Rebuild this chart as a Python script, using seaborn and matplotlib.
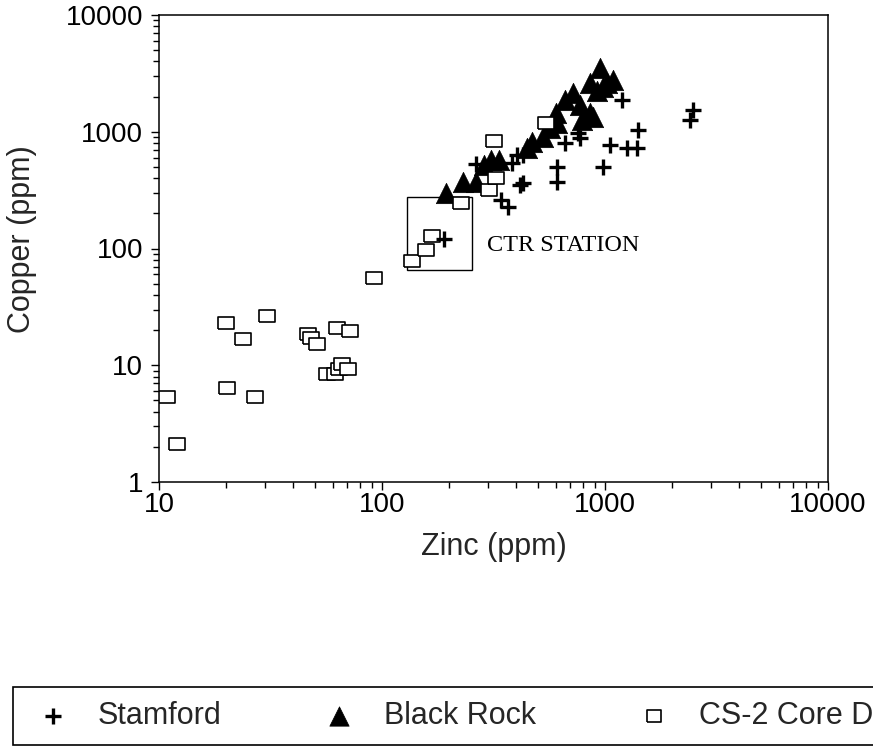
import numpy as np
import pandas as pd
import matplotlib
matplotlib.use("Agg")
import matplotlib.pyplot as plt
from matplotlib.ticker import FixedLocator, FuncFormatter, LogLocator, NullFormatter
from matplotlib.patches import Rectangle
import seaborn as sns

# ---------------- data ----------------
stamford_zn = [190, 265, 401, 427, 381, 427, 414, 343, 366, 612, 612, 659, 753, 769,
               975, 1050, 1251, 1387, 1401, 1189, 2472, 2398]
stamford_cu = [120, 530, 628, 628, 537, 361, 347, 258, 225, 496, 369, 797, 970, 880,
               496, 766, 722, 722, 1030, 1864, 1531, 1256]

blackrock_zn = [194, 230, 265, 288, 309, 336, 445, 473, 525, 564, 612, 606, 659, 715,
                769, 787, 853, 881, 853, 975, 946, 1081, 920, 1016]
blackrock_cu = [300, 369, 369, 516, 569, 569, 722, 813, 898, 1072, 1183, 1442, 1864, 2140,
                1686, 1250, 1442, 1333, 2608, 2410, 3500, 2767, 2250, 2600]

cs2_zn = [10.9, 12.05, 20, 20.2, 23.8, 27, 30.6, 46.7, 48.2, 51.2, 63, 72, 56.8, 61.6,
          64.3, 66.4, 70.6, 92.3, 137, 158, 167, 227, 303, 326, 319, 541]
cs2_cu = [5.3, 2.1, 23, 6.4, 16.9, 5.3, 26.6, 18.6, 17.2, 15.3, 21, 19.8, 8.45, 8.45,
          9.3, 10.3, 9.3, 56.4, 78.8, 98, 129, 243, 315, 399, 829, 1183]

series_names = ["Stamford", "Black Rock", "CS-2 Core Data"]
x_ticks = [10, 100, 1000, 10000]
y_ticks = [1, 10, 100, 1000, 10000]

# CTR station box (Zn range, Cu range) and label
ctr_zn = (129, 253)
ctr_cu = (65.5, 276)
ctr_label = "CTR STATION"

# ---------------- styling ----------------
sns.set_style("ticks")
plt.rcParams["font.family"] = ["Liberation Sans", "DejaVu Sans"]

fig = plt.figure(figsize=(8.73, 7.52), dpi=100)
ax = fig.add_axes([159 / 873, 1 - 482 / 752, 669 / 873, 467 / 752])

df_s = pd.DataFrame({"Zn": stamford_zn, "Cu": stamford_cu})
df_b = pd.DataFrame({"Zn": blackrock_zn, "Cu": blackrock_cu})
df_c = pd.DataFrame({"Zn": cs2_zn, "Cu": cs2_cu})

rect_marker = [(-1.3, -1), (1.3, -1), (1.3, 1), (-1.3, 1), (-1.3, -1)]

sns.scatterplot(data=df_s, x="Zn", y="Cu", marker="+", s=130, color="black",
                linewidth=2.4, ax=ax, label=series_names[0], zorder=5)
sns.scatterplot(data=df_b, x="Zn", y="Cu", marker="^", s=215, color="black",
                edgecolor="black", linewidth=0.5, ax=ax, label=series_names[1], zorder=3)
sns.scatterplot(data=df_c, x="Zn", y="Cu", marker=rect_marker, s=125, color="white",
                edgecolor="black", linewidth=1.2, ax=ax, label=series_names[2], zorder=4)

ax.set_xscale("log")
ax.set_yscale("log")
ax.set_xlim(x_ticks[0], x_ticks[-1])
ax.set_ylim(y_ticks[0], y_ticks[-1])

fmt = FuncFormatter(lambda v, p: f"{int(round(v))}")
ax.xaxis.set_major_locator(FixedLocator(x_ticks))
ax.yaxis.set_major_locator(FixedLocator(y_ticks))
ax.xaxis.set_major_formatter(fmt)
ax.yaxis.set_major_formatter(fmt)
ax.xaxis.set_minor_locator(LogLocator(base=10, subs=np.arange(2, 10)))
ax.yaxis.set_minor_locator(LogLocator(base=10, subs=np.arange(2, 10)))
ax.xaxis.set_minor_formatter(NullFormatter())
ax.yaxis.set_minor_formatter(NullFormatter())

ax.tick_params(axis="both", which="both", direction="out", colors="black",
               top=False, right=False, width=1.0)
ax.tick_params(axis="both", which="major", length=5.5, labelsize=20)
ax.tick_params(axis="both", which="minor", length=4.5)
ax.tick_params(axis="x", which="major", pad=2)
ax.tick_params(axis="y", which="major", pad=6)

for sp in ax.spines.values():
    sp.set_visible(True)
    sp.set_color("black")
    sp.set_linewidth(1.1)

ax.set_xlabel("Zinc (ppm)", fontsize=22, labelpad=10)
ax.set_ylabel("Copper (ppm)", fontsize=22)
ax.yaxis.set_label_coords(-0.182, 0.52)

# CTR station box + label
ax.add_patch(Rectangle((ctr_zn[0], ctr_cu[0]), ctr_zn[1] - ctr_zn[0], ctr_cu[1] - ctr_cu[0],
                       fill=False, edgecolor="black", linewidth=1.0, zorder=2))
ax.text(296, 107, ctr_label, fontsize=17.5, family=["Liberation Serif", "DejaVu Serif"],
        ha="left", va="center", color="black")

# legend below (the right end runs past the figure edge, as in the reference)
handles, labels = ax.get_legend_handles_labels()
ax.get_legend().remove()
leg = fig.legend(handles, labels, ncol=3, loc="upper left",
                 bbox_to_anchor=(13 / 873, 1 - 687 / 752), bbox_transform=fig.transFigure,
                 fontsize=22, frameon=True, fancybox=False, edgecolor="black",
                 framealpha=1, borderpad=0.46, handlelength=1.7, handletextpad=0.62,
                 columnspacing=3.0, markerscale=0.95, borderaxespad=0)
leg.get_frame().set_linewidth(1.2)

fig.savefig("out.png", dpi=100)
